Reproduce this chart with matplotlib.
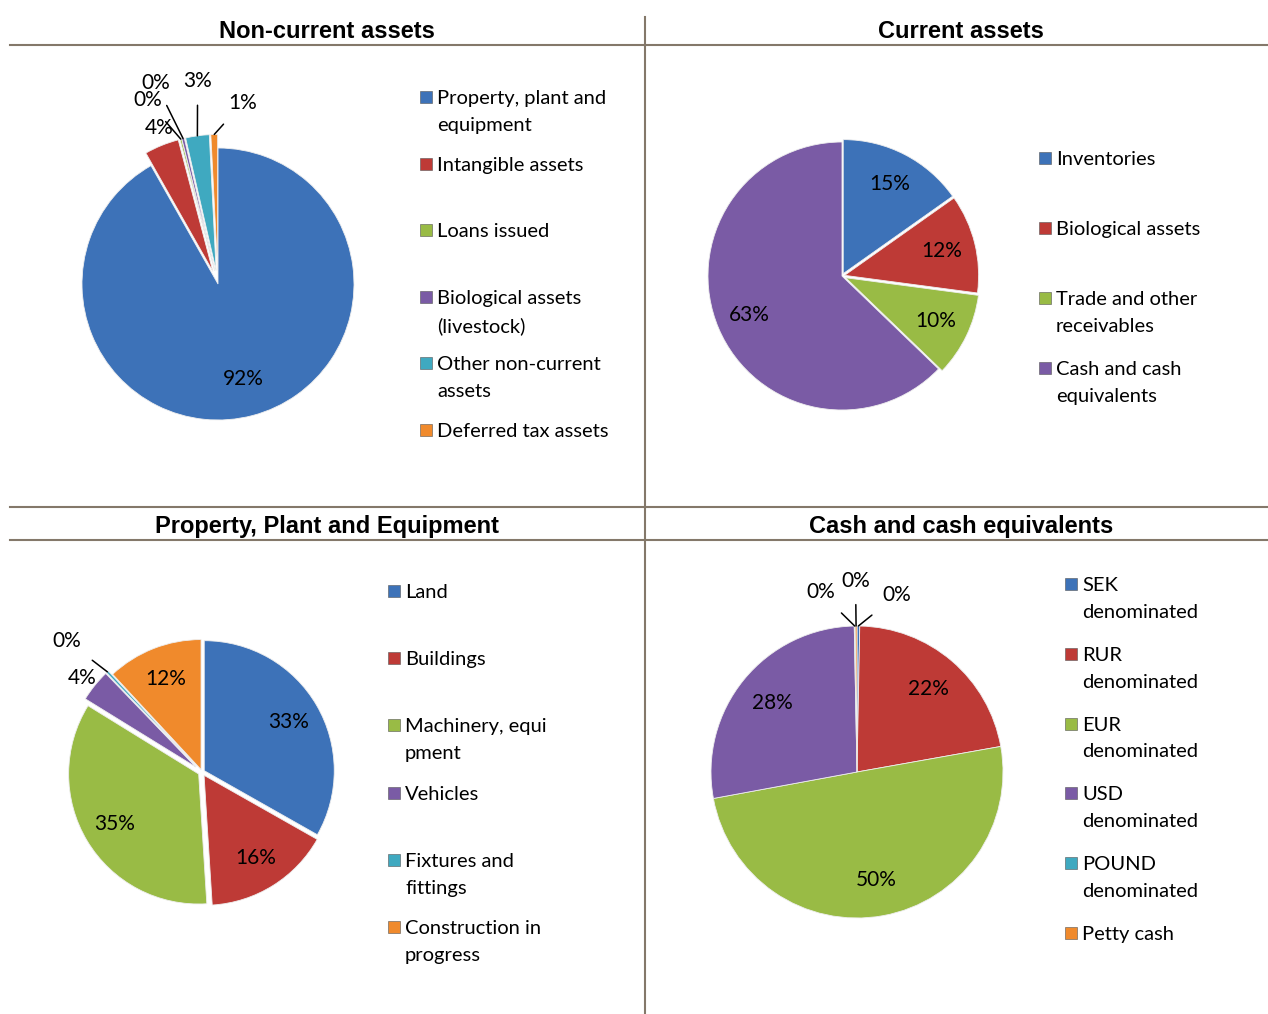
"""
Balance sheet structure: four pie charts in a 2x2 grid.
"""
import numpy as np
import matplotlib
matplotlib.use('Agg')
import matplotlib.pyplot as plt
from matplotlib.patches import Rectangle

W, H = 1268, 1014

# ---- data ----
noncurrent_labels = ['Property, plant and\nequipment', 'Intangible assets', 'Loans issued',
                     'Biological assets\n(livestock)', 'Other non-current\nassets',
                     'Deferred tax assets']
noncurrent_values = [91.8, 4.1, 0.2, 0.3, 2.8, 0.8]

current_labels = ['Inventories', 'Biological assets', 'Trade and other\nreceivables',
                  'Cash and cash\nequivalents']
current_values = [15.2, 11.9, 10.1, 62.8]

ppe_labels = ['Land', 'Buildings', 'Machinery, equi\npment', 'Vehicles',
              'Fixtures and\nfittings', 'Construction in\nprogress']
ppe_values = [33.2, 15.8, 34.8, 4.0, 0.3, 11.9]

cash_labels = ['SEK\ndenominated', 'RUR\ndenominated', 'EUR\ndenominated',
               'USD\ndenominated', 'POUND\ndenominated', 'Petty cash']
cash_values = [0.3, 21.9, 49.9, 27.6, 0.1, 0.2]

colors = ['#3D72B8', '#BE3A36', '#99BB45', '#7A5BA5', '#3FA9C0', '#F08A2C']

FONT = 'Lato'
LINE_COLOR = '#84786A'


def fx(x):
    return x / W


def fy(y):
    return 1 - y / H


def draw_pie(fig, values, cx, cy, r, explode, outside, pct_dist=0.75):
    pad = 1.35
    rect = [fx(cx - r * pad), fy(cy + r * pad), 2 * r * pad / W, 2 * r * pad / H]
    ax = fig.add_axes(rect)
    wedges, _ = ax.pie(values, colors=colors[:len(values)], startangle=90,
                       counterclock=False, explode=explode, radius=1,
                       wedgeprops=dict(edgecolor='#eeeeee', linewidth=0.6))
    ax.set_xlim(-pad, pad)
    ax.set_ylim(-pad, pad)
    ax.set_aspect('equal')
    ax.axis('off')
    for i, (w, v) in enumerate(zip(wedges, values)):
        txt = f'{round(v):.0f}%'
        mid = np.deg2rad((w.theta1 + w.theta2) / 2)
        ox, oy = w.center
        if i in outside:
            tx, ty, leader = outside[i]
            if leader:
                rim = (ox + np.cos(mid), oy + np.sin(mid))
                ax.annotate(txt, xy=rim, xytext=(tx, ty), fontsize=15, family=FONT,
                            ha='center', va='center',
                            arrowprops=dict(arrowstyle='-', color='black', lw=1.1,
                                            shrinkA=8, shrinkB=0))
            else:
                ax.text(tx, ty, txt, fontsize=15, family=FONT, ha='center', va='center')
        else:
            ax.text(ox + pct_dist * np.cos(mid), oy + pct_dist * np.sin(mid), txt,
                    fontsize=15, family=FONT, ha='center', va='center')
    return ax


def draw_legend(fig, labels, mx, y0, dy):
    for i, lab in enumerate(labels):
        y = y0 + i * dy
        fig.add_artist(Rectangle((fx(mx - 6), fy(y + 6)), 12 / W, 12 / H,
                                 transform=fig.transFigure, facecolor=colors[i],
                                 edgecolor='#555555', linewidth=0.4))
        fig.text(fx(mx + 11), fy(y - 7), lab, fontsize=14.5, family=FONT,
                 ha='left', va='top', linespacing=1.7)


def main():
    fig = plt.figure(figsize=(W / 100, H / 100), dpi=100)

    # frame lines
    for y in (45, 507, 540):
        fig.add_artist(plt.Line2D([fx(10), fx(1268)], [fy(y), fy(y)],
                                  transform=fig.transFigure, color=LINE_COLOR, lw=1.5))
    fig.add_artist(plt.Line2D([fx(645), fx(645)], [fy(17), fy(1014)],
                              transform=fig.transFigure, color=LINE_COLOR, lw=1.5))

    titles = [('Non-current assets', 327, 31), ('Current assets', 961, 31),
              ('Property, Plant and Equipment', 327, 526),
              ('Cash and cash equivalents', 961, 526)]
    for t, x, y in titles:
        fig.text(fx(x), fy(y), t, fontsize=17, fontweight='bold',
                 family='Liberation Sans', ha='center', va='center')

    draw_pie(fig, noncurrent_values, 218, 284, 136,
             [0, 0.1, 0.1, 0.1, 0.1, 0.1],
             {1: (-0.43, 1.15, False), 2: (-0.52, 1.35, True), 3: (-0.46, 1.48, True),
              4: (-0.15, 1.49, True), 5: (0.18, 1.33, True)}, pct_dist=0.72)
    draw_legend(fig, noncurrent_labels, 426, 97, 66.6)

    draw_pie(fig, current_values, 842, 276, 134, [0.02, 0.02, 0.03, 0], {})
    draw_legend(fig, current_labels, 1045, 158, 70)

    draw_pie(fig, ppe_values, 202, 772, 130, [0.02, 0.03, 0.03, 0.06, 0.06, 0.02],
             {3: (-0.92, 0.72, False), 4: (-1.04, 1.01, True)})
    draw_legend(fig, ppe_labels, 394, 591, 67.2)

    draw_pie(fig, cash_values, 857, 772, 146, [0, 0, 0, 0, 0, 0],
             {0: (0.27, 1.21, True), 4: (-0.25, 1.23, True), 5: (-0.01, 1.31, True)})
    draw_legend(fig, cash_labels, 1071, 584, 69.8)

    fig.savefig('out.png', dpi=100, facecolor='white')


if __name__ == '__main__':
    main()
